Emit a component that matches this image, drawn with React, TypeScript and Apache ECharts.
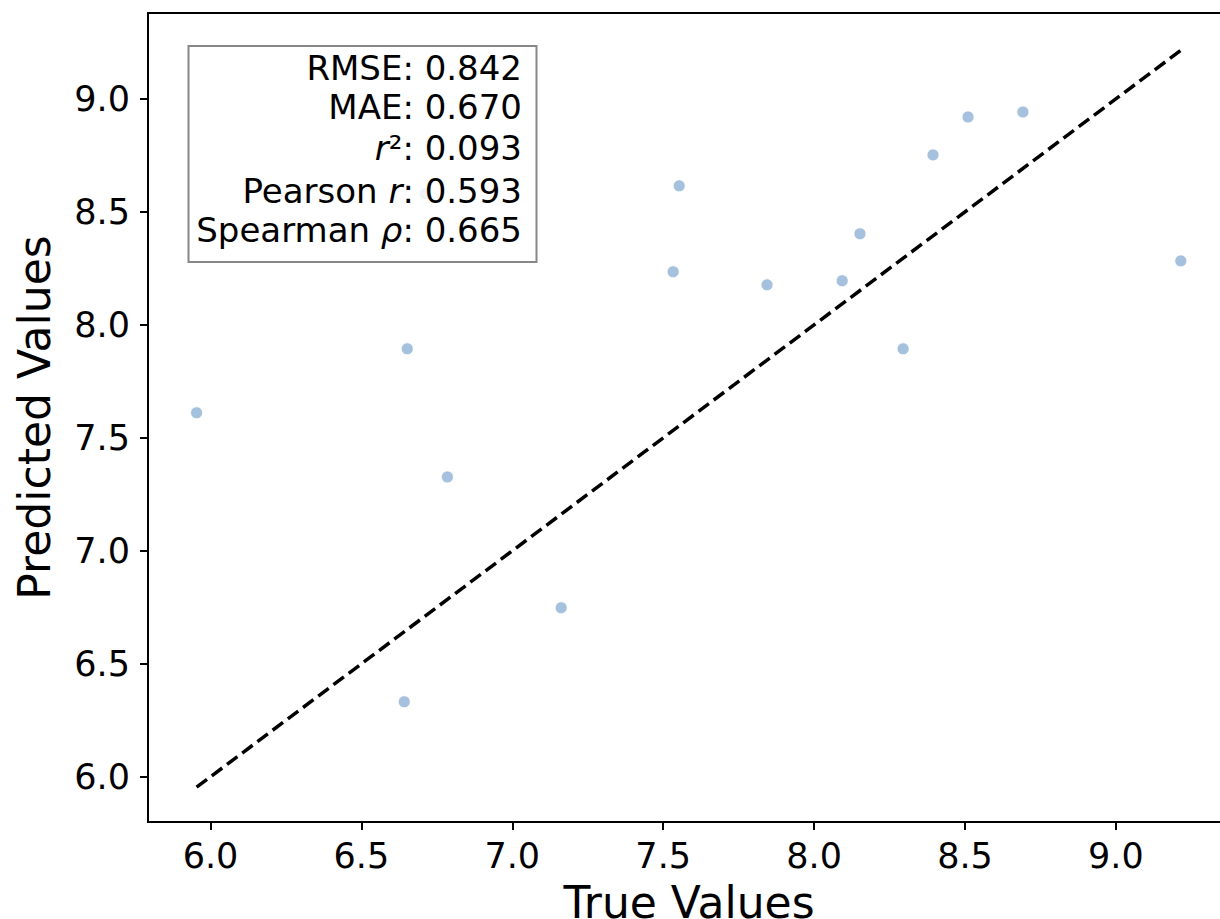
import React, { useEffect, useRef } from "react";
import * as echarts from "echarts";

// True (x) and predicted (y) values
const trueValues = [5.954, 6.652, 6.785, 6.712, 6.642, 7.162, 7.533, 7.553, 7.844, 8.093, 8.152, 8.295, 8.394, 8.51, 8.692, 9.215];
const predValues = [7.611, 7.894, 7.327, 8.58, 6.332, 6.748, 8.235, 8.615, 8.177, 8.195, 8.403, 7.894, 8.752, 8.92, 8.942, 8.283];

const tickValues = [6.0, 6.5, 7.0, 7.5, 8.0, 8.5, 9.0];
const X_MIN = 5.793;
const X_MAX = 9.378;
const Y_MIN = 5.8;
const Y_MAX = 9.38;

const metricLabels = ["RMSE", "MAE", "r2", "Pearson r", "Spearman ρ"];
const metricValues = [0.842, 0.67, 0.093, 0.593, 0.665];

const FONT = "DejaVu Sans";

export default function App() {
  const ref = useRef<HTMLDivElement>(null);

  useEffect(() => {
    if (!ref.current) return;
    const chart = echarts.init(ref.current, null, { renderer: "svg" });

    const points = trueValues.map((x, i) => [x, predValues[i]]);
    const all = trueValues.concat(predValues);
    const lo = Math.min(...all);
    const hi = Math.max(...all);

    const baseStyle = { fontFamily: FONT, fontSize: 34, fill: "#000" };
    const rich = {
      n: { fontFamily: FONT, fontSize: 34, color: "#000" },
      i: { fontFamily: FONT, fontSize: 34, fontStyle: "italic", color: "#000" },
    };
    const lineTexts = metricLabels.map((lab, k) => {
      const v = metricValues[k].toFixed(3);
      if (lab === "r2") return `{i|r}{n|²: ${v}}`;
      if (lab === "Pearson r") return `{n|Pearson }{i|r}{n|: ${v}}`;
      if (lab === "Spearman ρ") return `{n|Spearman }{i|ρ}{n|: ${v}}`;
      return `{n|${lab}: ${v}}`;
    });
    const lineYs = [67.5, 106.5, 148, 191, 230];

    const axisCommon = {
      type: "value" as const,
      nameLocation: "middle" as const,
      nameTextStyle: { fontFamily: FONT, fontSize: 44, color: "#000" },
      axisLine: { show: true, lineStyle: { color: "#000", width: 2 } },
      axisTick: { show: true, length: 8, inside: false, lineStyle: { color: "#000", width: 2 }, customValues: tickValues },
      splitLine: { show: false },
    };

    chart.setOption({
      animation: false,
      backgroundColor: "#fff",
      grid: {
        left: 148,
        top: 13,
        right: -10,
        bottom: 97,
        show: true,
        borderColor: "#000",
        borderWidth: 2,
        containLabel: false,
        outerBoundsMode: "none",
      },
      xAxis: {
        ...axisCommon,
        min: X_MIN,
        max: X_MAX,
        name: "True Values",
        nameGap: 58,
        axisLabel: {
          customValues: tickValues,
          formatter: (v: number) => v.toFixed(1),
          fontFamily: FONT,
          fontSize: 35,
          color: "#000",
          margin: 16,
        },
      },
      yAxis: {
        ...axisCommon,
        min: Y_MIN,
        max: Y_MAX,
        name: "Predicted Values",
        nameGap: 92,
        axisLabel: {
          customValues: tickValues,
          formatter: (v: number) => v.toFixed(1),
          fontFamily: FONT,
          fontSize: 35,
          color: "#000",
          margin: 18,
        },
      },
      series: [
        {
          type: "scatter",
          data: points,
          symbolSize: 12,
          itemStyle: { color: "#8eb2d6", borderColor: "#fff", borderWidth: 1 },
          z: 2,
        },
        {
          type: "line",
          data: [[lo, lo], [hi, hi]],
          symbol: "none",
          lineStyle: { color: "#000", width: 3.5, type: [13, 6] },
          z: 3,
        },
      ],
      graphic: [
        {
          type: "rect",
          z: 100,
          shape: { x: 188.5, y: 46, width: 348, height: 216 },
          style: { fill: "rgba(255,255,255,0.8)", stroke: "#888", lineWidth: 2 },
        },
        ...lineTexts.map((t, k) => ({
          type: "text",
          z: 101,
          x: 522,
          y: lineYs[k],
          style: { ...baseStyle, text: t, rich, align: "right", verticalAlign: "middle" },
        })),
      ],
    });

    return () => chart.dispose();
  }, []);

  return (
    <div style={{ position: "fixed", left: 0, top: 0, width: 1220, height: 919, overflow: "hidden", background: "#fff" }}>
      <div ref={ref} style={{ width: 1220, height: 919 }} />
    </div>
  );
}
